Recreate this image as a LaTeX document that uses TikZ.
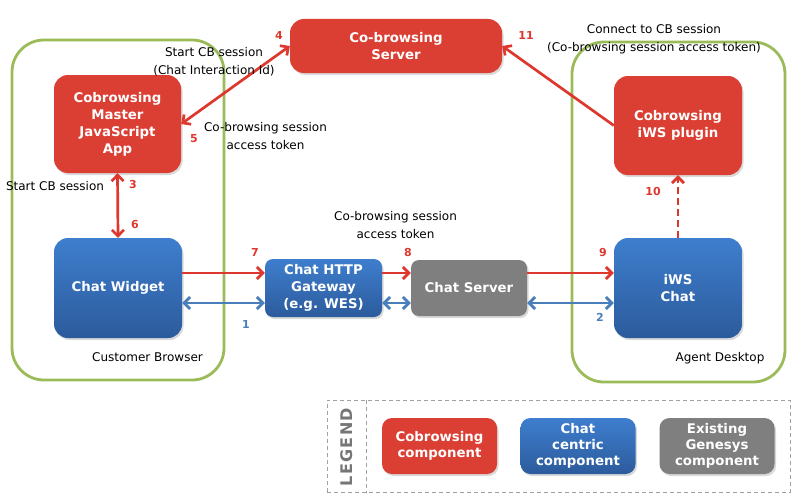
\documentclass[tikz,border=0pt]{standalone}
\usepackage{fontspec}
\setmainfont{DejaVu Sans}
\usepackage{tikz}
\usetikzlibrary{arrows.meta,shadows}

\definecolor{cbred}{RGB}{219,62,51}
\definecolor{chattop}{RGB}{62,126,206}
\definecolor{chatbot}{RGB}{44,91,156}
\definecolor{gengray}{RGB}{127,127,127}
\definecolor{hostgreen}{RGB}{155,187,89}
\definecolor{flowred}{RGB}{222,56,46}
\definecolor{flowblue}{RGB}{74,126,187}
\definecolor{legendgray}{RGB}{160,160,160}
\definecolor{legendtext}{RGB}{118,118,118}

\begin{document}
\begin{tikzpicture}[x=1pt, y=-1pt, >={Straight Barb[length=6pt,width=12pt]}]
	\tikzstyle{comp}=[rectangle, rounded corners=14pt, inner sep=0pt, text=white, align=center, font=\fontsize{13.3}{17}\selectfont\bfseries, drop shadow={opacity=0.3, shadow xshift=1.5pt, shadow yshift=-2pt}]
	\tikzstyle{cobrowse}=[comp, fill=cbred]
	\tikzstyle{chat}=[comp, top color=chattop, bottom color=chatbot]
	\tikzstyle{genesys}=[comp, fill=gengray]
	\tikzstyle{host}=[rectangle, draw=hostgreen, line width=2.8pt, rounded corners=32pt]
	\tikzstyle{note}=[align=center, font=\fontsize{12}{18}\selectfont]
	\tikzstyle{num}=[font=\fontsize{11}{12}\selectfont\bfseries, text=flowred]
	\tikzstyle{bluenum}=[num, text=flowblue]
	\tikzstyle{redflow}=[color=flowred, line width=2.7pt]
	\tikzstyle{blueflow}=[color=flowblue, line width=2.7pt]
	\tikzstyle{legendbox}=[comp, rounded corners=10pt, minimum width=115pt, minimum height=56pt, font=\fontsize{13.3}{16}\selectfont\bfseries]

	\useasboundingbox (0,0) rectangle (800,503);

	% hosts
	\node[host, minimum width=212pt, minimum height=340pt] (browser) at (118,210) {};
	\node[host, minimum width=213pt, minimum height=340pt] (desktop) at (678.5,212) {};
	\node[note] (browserlabel) at (147.5,357) {Customer Browser};
	\node[note] (desktoplabel) at (720,358) {Agent Desktop};

	% components
	\node[cobrowse, minimum width=212pt, minimum height=54pt] (server) at (396,46) {Co-browsing\\Server};
	\node[cobrowse, minimum width=127pt, minimum height=98pt] (master) at (117.5,124) {Cobrowsing\\Master\\JavaScript\\App};
	\node[cobrowse, minimum width=128pt, minimum height=99pt] (plugin) at (678,125.5) {Cobrowsing\\iWS plugin};
	\node[chat, minimum width=128pt, minimum height=100pt] (widget) at (118,288) {Chat Widget};
	\node[chat, rounded corners=8pt, minimum width=117pt, minimum height=58pt] (gateway) at (323.5,288) {Chat HTTP\\Gateway\\(e.g. WES)};
	\node[genesys, rounded corners=8pt, minimum width=116pt, minimum height=56pt] (chatserver) at (469,288) {Chat Server};
	\node[chat, minimum width=128pt, minimum height=100pt] (iwschat) at (678,288) {iWS\\Chat};

	% flows
	\path[redflow, <->]
		(master.south) edge (widget.north)
		(master.east) edge (server.west);
	\path[redflow, ->]
		([yshift=15pt]widget.east) edge ([yshift=15pt]gateway.west)
		([yshift=15pt]gateway.east) edge ([yshift=15pt]chatserver.west)
		([yshift=15pt]chatserver.east) edge ([yshift=15pt]iwschat.west)
		(plugin.west) edge (server.east);
	\path[redflow, ->, dash pattern=on 7pt off 4pt]
		(iwschat.north) edge (plugin.south);
	\path[blueflow, <->]
		([yshift=-15pt]widget.east) edge ([yshift=-15pt]gateway.west)
		([yshift=-15pt]gateway.east) edge ([yshift=-15pt]chatserver.west)
		([yshift=-15pt]chatserver.east) edge ([yshift=-15pt]iwschat.west);

	% messages
	\node[note] (startcb) at (214,62) {Start CB session\\(Chat Interaction Id)};
	\node[note] (token) at (265.5,136) {Co-browsing session\\access token};
	\node[note] (startcbleft) at (55,186) {Start CB session};
	\node[note] (tokenmid) at (395.5,225) {Co-browsing session\\access token};
	\node[note] (connect) at (654,39) {Connect to CB session\\(Co-browsing session access token)};

	% step numbers
	\node[bluenum] (n1) at (246,324) {1};
	\node[bluenum] (n2) at (600,317) {2};
	\node[num] (n3) at (133,184) {3};
	\node[num] (n4) at (279,35) {4};
	\node[num] (n5) at (194,139) {5};
	\node[num] (n6) at (135,224) {6};
	\node[num] (n7) at (255,252) {7};
	\node[num] (n8) at (408,252) {8};
	\node[num] (n9) at (603,252) {9};
	\node[num] (n10) at (653,191) {10};
	\node[num] (n11) at (526,35) {11};

	% legend
	\node[rectangle, draw=legendgray, line width=1pt, dash pattern=on 4pt off 3pt, minimum width=463pt, minimum height=92pt] (legend) at (558.5,446) {};
	\draw[draw=legendgray, line width=1pt, dash pattern=on 4pt off 3pt] ([xshift=40pt]legend.north west) -- ([xshift=40pt]legend.south west);
	\node[rotate=90, text=legendtext, font=\fontsize{16}{16}\selectfont\bfseries\addfontfeature{LetterSpace=8}] (legendtitle) at (347,447) {LEGEND};
	\node[legendbox, fill=cbred] (legendcb) at (439.5,446) {Cobrowsing\\component};
	\node[legendbox, top color=chattop, bottom color=chatbot] (legendchat) at (578,446) {Chat\\centric\\component};
	\node[legendbox, fill=gengray] (legendgen) at (717,446) {Existing\\Genesys\\component};
\end{tikzpicture}
\end{document}
